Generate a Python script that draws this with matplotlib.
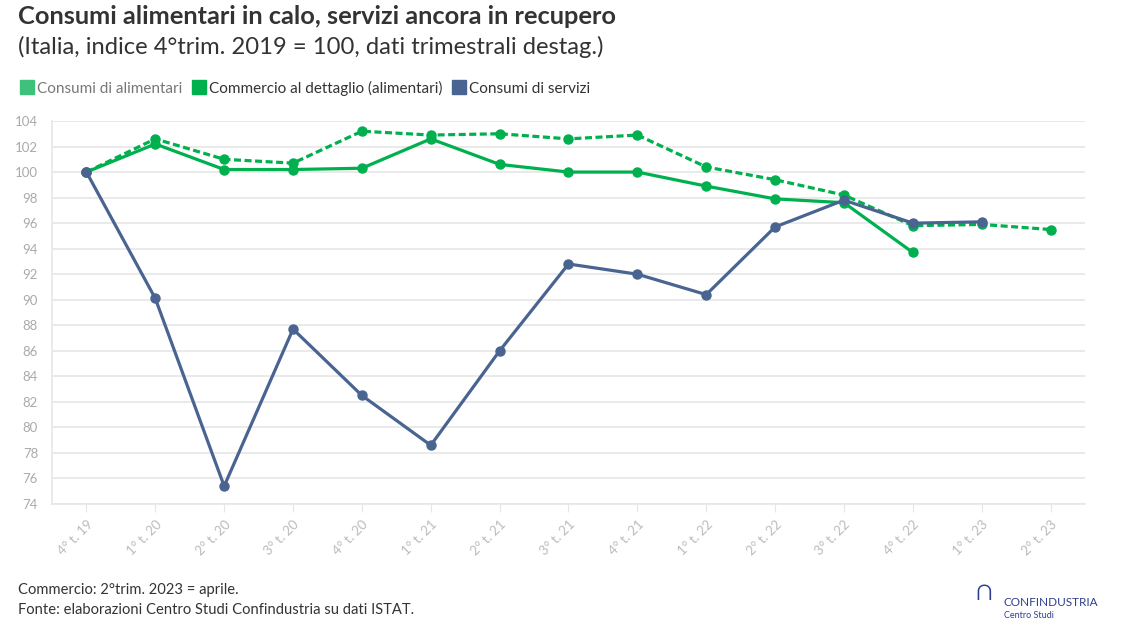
import matplotlib
matplotlib.use("Agg")
import matplotlib.pyplot as plt
from matplotlib.lines import Line2D

plt.rcParams['font.family'] = ['Lato', 'DejaVu Sans']

quarters = ["4° t. 19", "1° t. 20", "2° t. 20", "3° t. 20", "4° t. 20", "1° t. 21", "2° t. 21",
            "3° t. 21", "4° t. 21", "1° t. 22", "2° t. 22", "3° t. 22", "4° t. 22", "1° t. 23", "2° t. 23"]
consumi_alimentari = [100.0, 102.2, 100.2, 100.2, 100.3, 102.6, 100.6, 100.0, 100.0, 98.9, 97.9, 97.6, 93.7]
commercio_dettaglio = [100.0, 102.6, 101.0, 100.7, 103.2, 102.9, 103.0, 102.6, 102.9, 100.4, 99.4, 98.2, 95.8, 95.9, 95.5]
consumi_servizi = [100.0, 90.1, 75.4, 87.7, 82.5, 78.6, 86.0, 92.8, 92.0, 90.4, 95.7, 97.8, 96.0, 96.1]
yticks = list(range(74, 105, 2))

green = "#00b04f"
green_light = "#3ec27b"
navy = "#4a6491"

fig = plt.figure(figsize=(11.24, 6.37), dpi=100)
ax = fig.add_axes([52/1124, 1-504/637, (1085-52)/1124, (504-121)/637])

ax.plot(range(len(commercio_dettaglio)), commercio_dettaglio, color=green, lw=2.3,
        linestyle=(0, (2.2, 1.1)), marker='o', markersize=6.5, zorder=3)
ax.plot(range(len(consumi_alimentari)), consumi_alimentari, color=green, lw=2.3,
        marker='o', markersize=6.5, zorder=4)
ax.plot(range(len(consumi_servizi)), consumi_servizi, color=navy, lw=2.3,
        marker='o', markersize=6.5, zorder=5)

ax.set_xlim(-0.5, len(quarters) - 0.5)
ax.set_ylim(74, 104)
ax.set_yticks(yticks)
ax.set_yticklabels([str(v) for v in yticks])
ax.set_xticks(range(len(quarters)))
ax.set_xticklabels(quarters, rotation=45, ha='right', rotation_mode='anchor')
ax.grid(axis='y', color='#e6e6e6', lw=1.2)
ax.set_axisbelow(True)
for s in ['top', 'right']:
    ax.spines[s].set_visible(False)
ax.spines['left'].set_color('#e6e6e6')
ax.spines['bottom'].set_color('#e6e6e6')
ax.spines['left'].set_linewidth(1.2)
ax.spines['bottom'].set_linewidth(1.2)
ax.tick_params(axis='y', length=0, pad=10, labelcolor='#aaaaaa', labelsize=9.5)
ax.tick_params(axis='x', length=6, color='#e6e6e6', pad=4, labelcolor='#bbbbbb', labelsize=9.5)

# Titles
fig.text(18/1124, 1-17/637, "Consumi alimentari in calo, servizi ancora in recupero",
         fontsize=18.3, fontweight='bold', color='#333333', va='center', ha='left')
fig.text(18/1124, 1-47/637, "(Italia, indice 4°trim. 2019 = 100, dati trimestrali destag.)",
         fontsize=17.1, color='#333333', va='center', ha='left')

# Legend
legend_items = [("Consumi di alimentari", green_light, '#777777'),
                ("Commercio al dettaglio (alimentari)", green, '#333333'),
                ("Consumi di servizi", navy, '#333333')]
handles = [Line2D([0], [0], marker='s', color='none', markerfacecolor=c, markeredgecolor=c,
                  markersize=9.5) for _, c, _ in legend_items]
leg = fig.legend(handles, [l for l, _, _ in legend_items], loc='center left',
                 bbox_to_anchor=(8/1124, 1-88/637), frameon=False, ncol=3,
                 fontsize=11, handlelength=0.7, handletextpad=0.3, columnspacing=0.75)
for t, (_, _, tc) in zip(leg.get_texts(), legend_items):
    t.set_color(tc)

# Footnotes
fig.text(18/1124, 1-590/637, "Commercio: 2°trim. 2023 = aprile.", fontsize=10.6,
         color='#333333', va='center', ha='left')
fig.text(18/1124, 1-610/637, "Fonte: elaborazioni Centro Studi Confindustria su dati ISTAT.",
         fontsize=10.6, color='#333333', va='center', ha='left')

# Logo text
fig.text(1003/1124, 1-602/637, "CONFINDUSTRIA", fontsize=8.5, color='#2e3f8f',
         va='center', ha='left')
fig.text(1004/1124, 1-616/637, "Centro Studi", fontsize=6.5, color='#2e3f8f',
         va='center', ha='left')
fig.text(984/1124, 1-592/637, "\u2229", fontsize=20, color='#2e3f8f', va='center', ha='center')

fig.savefig("out.png", dpi=100)
